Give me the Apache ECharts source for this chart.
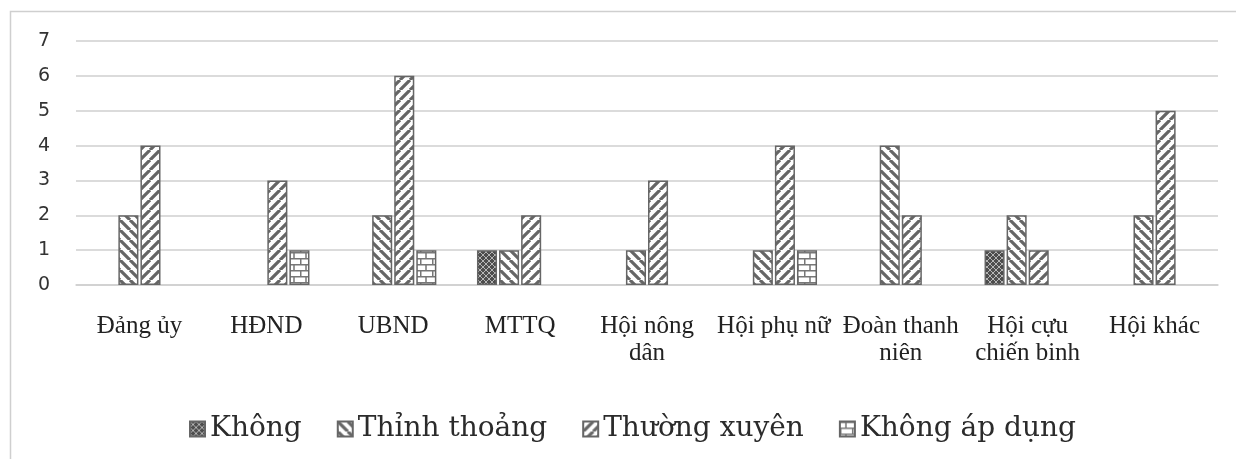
<!DOCTYPE html>
<html>
<head>
<meta charset="utf-8">
<script src="https://cdn.jsdelivr.net/npm/echarts@6/dist/echarts.min.js"></script>
<style>
html,body{margin:0;padding:0;background:#fff;}
#chart{width:1236px;height:459px;}
</style>
</head>
<body>
<div id="chart"></div>
<script>
const categories = ['Đảng ủy', 'HĐND', 'UBND', 'MTTQ', 'Hội nông\ndân', 'Hội phụ nữ', 'Đoàn thanh\nniên', 'Hội cựu\nchiến binh', 'Hội khác'];
const seriesNames = ['Không', 'Thỉnh thoảng', 'Thường xuyên', 'Không áp dụng'];
const khong       = [0, 0, 0, 1, 0, 0, 0, 1, 0];
const thinhThoang = [2, 0, 2, 1, 1, 1, 4, 2, 2];
const thuongXuyen = [4, 3, 6, 2, 3, 4, 2, 1, 5];
const khongApDung = [0, 1, 1, 0, 0, 1, 0, 0, 0];
const yTicks = [0, 1, 2, 3, 4, 5, 6, 7];

function makeTile(w, h, draw) {
  const c = document.createElement('canvas');
  c.width = w; c.height = h;
  const ctx = c.getContext('2d');
  draw(ctx, w, h);
  return c;
}
const patKhong = makeTile(6, 6, (ctx, w, h) => {
  ctx.fillStyle = '#4d4d4d'; ctx.fillRect(0, 0, w, h);
  ctx.strokeStyle = '#b5b5b5'; ctx.lineWidth = 1;
  ctx.beginPath();
  for (let k = -1; k <= 1; k++) {
    ctx.moveTo(k * w, 0); ctx.lineTo(k * w + w, h);
    ctx.moveTo(k * w, h); ctx.lineTo(k * w + w, 0);
  }
  ctx.stroke();
});
const patBack = makeTile(10, 10, (ctx, w, h) => {
  ctx.fillStyle = '#fff'; ctx.fillRect(0, 0, w, h);
  ctx.strokeStyle = '#666'; ctx.lineWidth = 3.2;
  ctx.beginPath();
  for (let k = -1; k <= 1; k++) { ctx.moveTo(k * w, 0); ctx.lineTo(k * w + w, h); }
  ctx.stroke();
});
const patFwd = makeTile(10, 10, (ctx, w, h) => {
  ctx.fillStyle = '#fff'; ctx.fillRect(0, 0, w, h);
  ctx.strokeStyle = '#666'; ctx.lineWidth = 3.2;
  ctx.beginPath();
  for (let k = -1; k <= 1; k++) { ctx.moveTo(k * w, h); ctx.lineTo(k * w + w, 0); }
  ctx.stroke();
});
const patBrick = makeTile(12, 12, (ctx, w, h) => {
  ctx.fillStyle = '#fff'; ctx.fillRect(0, 0, w, h);
  ctx.strokeStyle = '#777'; ctx.lineWidth = 1.5;
  ctx.beginPath();
  ctx.moveTo(0, 0.75); ctx.lineTo(w, 0.75);
  ctx.moveTo(0, 6.75); ctx.lineTo(w, 6.75);
  ctx.moveTo(6, 0); ctx.lineTo(6, 6);
  ctx.moveTo(0.75, 6); ctx.lineTo(0.75, 12);
  ctx.stroke();
});
const patterns = [patKhong, patBack, patFwd, patBrick];
const values = [khong, thinhThoang, thuongXuyen, khongApDung];

const chart = echarts.init(document.getElementById('chart'), null, {renderer: 'canvas'});
chart.setOption({
  animation: false,
  backgroundColor: '#fff',
  graphic: [{
    type: 'rect', silent: true, z: -10,
    shape: {x: 10.5, y: 11.5, width: 1300, height: 600},
    style: {fill: null, stroke: '#cfcfcf', lineWidth: 1.5}
  }],
  grid: {left: 76, right: 18, top: 41, bottom: 174, containLabel: false},
  legend: {
    top: 410,
    left: 184,
    itemWidth: 15, itemHeight: 15, itemGap: 35,
    icon: 'rect',
    textStyle: {fontFamily: 'DejaVu Serif', fontSize: 28, color: '#2b2b2b'},
    data: seriesNames
  },
  xAxis: {
    type: 'category',
    data: categories,
    axisLine: {lineStyle: {color: '#cfcfcf', width: 1.5}},
    axisTick: {show: false},
    axisLabel: {
      interval: 0, margin: 28,
      fontFamily: 'Liberation Serif', fontSize: 25, lineHeight: 27, color: '#222'
    }
  },
  yAxis: {
    type: 'value', min: 0, max: 7, interval: 1,
    axisLine: {show: false}, axisTick: {show: false},
    splitLine: {lineStyle: {color: '#cfcfcf', width: 1.5}},
    axisLabel: {
      margin: 26, fontFamily: 'DejaVu Sans', fontSize: 19, color: '#333',
      formatter: v => String(yTicks[v])
    }
  },
  series: seriesNames.map((name, i) => ({
    name: name,
    type: 'bar',
    data: values[i].map(v => v === 0 ? {value: v, itemStyle: {borderWidth: 0}} : v),
    barGap: '10%',
    barCategoryGap: '32%',
    itemStyle: {
      color: {image: patterns[i], repeat: 'repeat'},
      borderColor: '#666', borderWidth: 1.5
    }
  }))
});
</script>
</body>
</html>
